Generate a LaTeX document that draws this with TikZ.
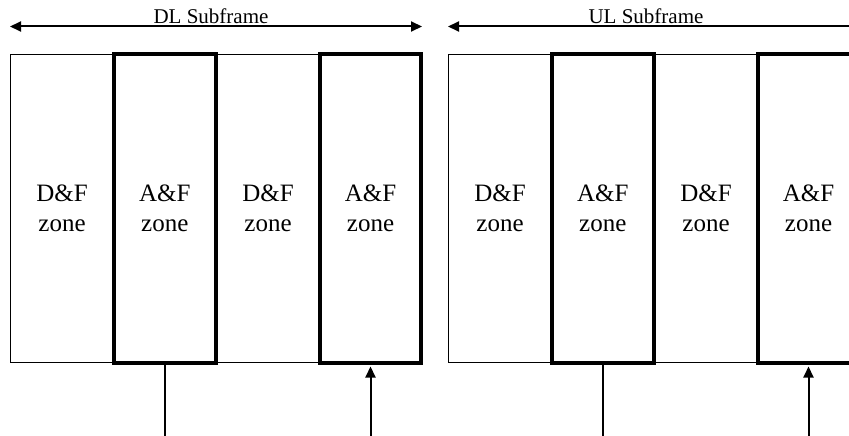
\documentclass[tikz,border=0pt]{standalone}
\usepackage{fontspec}
\setmainfont{Liberation Serif}
\usetikzlibrary{arrows.meta}
\begin{document}
\begin{tikzpicture}[x=1pt,y=-1pt,
  zone/.style={draw, rectangle, inner sep=0pt, minimum height=308pt, align=center,
    font=\fontsize{25}{30}\selectfont},
  thinzone/.style={zone, line width=1.2pt},
  thickzone/.style={zone, line width=4pt},
  span/.style={line width=2pt},
  tipend/.style={-{Triangle[length=11pt,width=10pt]}},
  tipboth/.style={{Triangle[length=11pt,width=10pt]}-{Triangle[length=11pt,width=10pt]}},
  lbl/.style={font=\fontsize{21}{24}\selectfont, anchor=base, inner sep=0pt}]
\useasboundingbox (0,0) rectangle (849,436);
\clip (0,0) rectangle (849,436);

% DL subframe
\node[thinzone, minimum width=103pt] (d1) at (62,208.5) {D\&F\\zone};
\node[thinzone, minimum width=104pt] (d3) at (268,208.5) {D\&F\\zone};
\node[thickzone, minimum width=102.5pt] (d2) at (164.75,208.5) {A\&F\\zone};
\node[thickzone, minimum width=101pt] (d4) at (370.5,208.5) {A\&F\\zone};

% UL subframe
\node[thinzone, minimum width=103pt] (u1) at (500,208.5) {D\&F\\zone};
\node[thinzone, minimum width=104pt] (u3) at (706,208.5) {D\&F\\zone};
\node[thickzone, minimum width=102.5pt] (u2) at (602.75,208.5) {A\&F\\zone};
\node[thickzone, minimum width=101pt] (u4) at (808.5,208.5) {A\&F\\zone};

% span arrows
\coordinate (dlL) at (10,26.5);
\coordinate (dlR) at (422,26.5);
\coordinate (ulL) at (448,26.5);
\coordinate (ulR) at (870,26.5);
\draw[span, tipboth] (dlL) -- (dlR);
\draw[span, tipend] (ulR) -- (ulL);
\node[lbl] (dlt) at (211,24) {DL Subframe};
\node[lbl] (ult) at (646,24) {UL Subframe};

% bottom connectors
\coordinate (b2) at (d2.south |- 0,440);
\coordinate (b4) at (d4.south |- 0,440);
\coordinate (c2) at (u2.south |- 0,440);
\coordinate (c4) at (u4.south |- 0,440);
\draw[span] (d2.south) -- (b2);
\draw[span, tipend] (b4) -- ([yshift=-2pt]d4.south);
\draw[span] (u2.south) -- (c2);
\draw[span, tipend] (c4) -- ([yshift=-2pt]u4.south);
\end{tikzpicture}
\end{document}
